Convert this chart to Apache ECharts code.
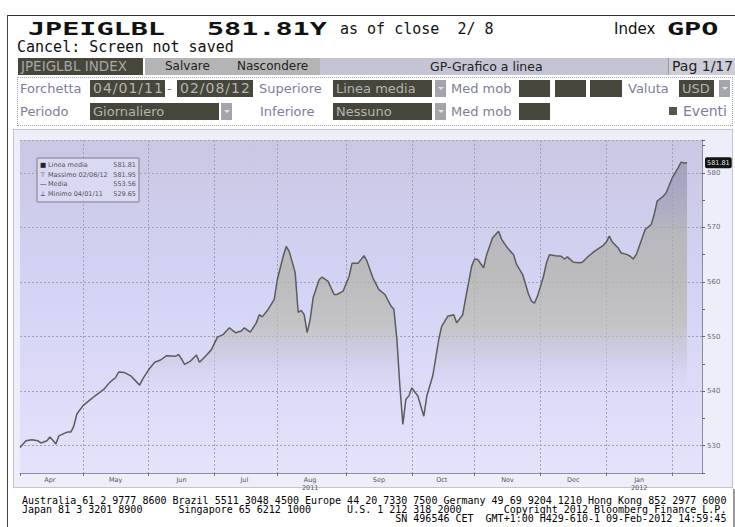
<!DOCTYPE html>
<html>
<head>
<meta charset="utf-8">
<script src="https://cdn.jsdelivr.net/npm/echarts@6/dist/echarts.min.js"></script>
<style>
body{margin:0;width:735px;height:527px;background:#fff;overflow:hidden;position:relative;font-family:'DejaVu Sans',sans-serif}
#main{position:absolute;left:0;top:0;width:735px;height:527px;z-index:1}
.a{position:absolute;white-space:pre;line-height:1}
.mono{font-family:'DejaVu Sans Mono',monospace}
.wide{font-family:'DejaVu Sans Mono',monospace;font-weight:bold;font-size:18px;transform:scaleX(1.58);transform-origin:0 0;color:#111}
.box{position:absolute;background:#46463a;color:#b4b4b4;font-size:13px;line-height:17px;height:17px;padding-left:3px;box-sizing:border-box;overflow:hidden;white-space:pre}
.lbl{position:absolute;color:#7d7d9b;font-size:13px;line-height:17px;white-space:pre}
.dd{position:absolute;background:#a4a4ac;width:11px;height:17px}
.dd:after{content:'';position:absolute;left:3px;top:7px;border-left:3px solid transparent;border-right:3px solid transparent;border-top:3px solid #e4e4e4}
.hb{position:absolute;font-size:12px;line-height:17px;color:#222;white-space:pre}
</style>
</head>
<body>
<!-- chart panel (behind the chart) -->
<div style="position:absolute;left:13px;top:129px;width:720px;height:359px;border:1px solid #c4c4d0;box-sizing:border-box;background:#eeeefb;z-index:0"></div>

<div id="main"></div>

<!-- screen frame -->
<div style="position:absolute;left:8px;top:15px;width:727px;height:1px;background:#333"></div>
<div style="position:absolute;left:7px;top:15px;width:1px;height:512px;background:#444"></div>
<div style="position:absolute;left:733px;top:489px;width:2px;height:38px;background:#999"></div>

<!-- title lines -->
<div class="a wide" style="left:28px;top:20px">JPEIGLBL</div>
<div class="a wide" style="left:207px;top:20px">581.81Y</div>
<div class="a mono" style="left:340px;top:22px;font-size:15px;color:#111">as of close  2/ 8</div>
<div class="a" style="left:614px;top:22px;font-size:15px;color:#111">Index</div>
<div class="a wide" style="left:667px;top:20px">GPO</div>
<div class="a mono" style="left:17px;top:40px;font-size:15px;color:#111">Cancel: Screen not saved</div>

<!-- menu bar -->
<div class="box" style="left:18px;top:58px;width:125px;font-size:13.5px;color:#a8a8a8">JPEIGLBL INDEX</div>
<div style="position:absolute;left:145px;top:58px;width:175px;height:17px;background:#b4b4b4"></div>
<div style="position:absolute;left:320px;top:58px;width:348px;height:17px;background:#c4c4d2"></div>
<div class="hb" style="left:165px;top:58px">Salvare</div>
<div class="hb" style="left:237px;top:58px">Nascondere</div>
<div class="hb" style="left:430px;top:58px;font-size:12.5px">GP-Grafico a linea</div>
<div style="position:absolute;left:668px;top:58px;width:67px;height:17px;background:#cdcdd8;border-left:1px solid #999;box-sizing:border-box"></div>
<div class="hb" style="left:672px;top:58px;font-size:14px">Pag 1/17</div>

<!-- settings rows -->
<div style="position:absolute;left:17px;top:77px;width:716px;height:49px;border:1px dotted #a4a4bc;box-sizing:border-box"></div>
<div class="lbl" style="left:20px;top:80px">Forchetta</div>
<div class="box" style="left:90px;top:80px;width:75px;font-size:14px;letter-spacing:1px">04/01/11</div>
<div class="lbl" style="left:167px;top:80px">-</div>
<div class="box" style="left:177px;top:80px;width:76px;font-size:14px;letter-spacing:1px">02/08/12</div>
<div class="lbl" style="left:259px;top:80px">Superiore</div>
<div class="box" style="left:333px;top:80px;width:99px">Linea media</div>
<div class="dd" style="left:435px;top:80px"></div>
<div class="lbl" style="left:451px;top:80px">Med mob</div>
<div class="box" style="left:519px;top:80px;width:31px"></div>
<div class="box" style="left:555px;top:80px;width:31px"></div>
<div class="box" style="left:590px;top:80px;width:32px"></div>
<div class="lbl" style="left:628px;top:80px">Valuta</div>
<div class="box" style="left:679px;top:80px;width:35px">USD</div>
<div class="dd" style="left:719px;top:80px"></div>

<div class="lbl" style="left:20px;top:103px">Periodo</div>
<div class="box" style="left:90px;top:103px;width:129px">Giornaliero</div>
<div class="dd" style="left:221px;top:103px"></div>
<div class="lbl" style="left:260px;top:103px">Inferiore</div>
<div class="box" style="left:333px;top:103px;width:99px">Nessuno</div>
<div class="dd" style="left:435px;top:103px"></div>
<div class="lbl" style="left:451px;top:103px">Med mob</div>
<div class="box" style="left:519px;top:103px;width:31px"></div>
<div style="position:absolute;left:669px;top:107px;width:8px;height:8px;background:#55554a"></div>
<div class="lbl" style="left:683px;top:103px;font-size:14px">Eventi</div>

<!-- footer -->
<pre class="mono" style="position:absolute;left:22px;top:496px;margin:0;font-size:10px;line-height:9px;color:#000">Australia 61 2 9777 8600 Brazil 5511 3048 4500 Europe 44 20 7330 7500 Germany 49 69 9204 1210 Hong Kong 852 2977 6000
Japan 81 3 3201 8900      Singapore 65 6212 1000      U.S. 1 212 318 2000       Copyright 2012 Bloomberg Finance L.P.
                                                              SN 496546 CET  GMT+1:00 H429-610-1 09-Feb-2012 14:59:45</pre>

<script>
// Data (business days, Apr 2011 - Feb 2012)
var sampleDates = [
  '2011-04-01','2011-04-05','2011-04-07','2011-04-11','2011-04-12','2011-04-14','2011-04-15','2011-04-18',
  '2011-04-19','2011-04-20','2011-04-22','2011-04-25','2011-04-26','2011-04-27','2011-04-28',
  '2011-05-02','2011-05-04','2011-05-06','2011-05-11','2011-05-13','2011-05-17','2011-05-18','2011-05-20',
  '2011-05-24','2011-05-27','2011-05-30',
  '2011-06-01','2011-06-03','2011-06-07','2011-06-09','2011-06-14','2011-06-15','2011-06-16','2011-06-17',
  '2011-06-21','2011-06-23','2011-06-24','2011-06-28','2011-06-30',
  '2011-07-04','2011-07-06','2011-07-08','2011-07-12','2011-07-14','2011-07-15','2011-07-19','2011-07-21',
  '2011-07-22','2011-07-25','2011-07-27','2011-07-29',
  '2011-08-01','2011-08-03','2011-08-04','2011-08-05','2011-08-09','2011-08-10','2011-08-11','2011-08-12',
  '2011-08-15','2011-08-16','2011-08-17','2011-08-19','2011-08-22','2011-08-24','2011-08-26','2011-08-29',
  '2011-08-31',
  '2011-09-02','2011-09-05','2011-09-07','2011-09-09','2011-09-12','2011-09-14','2011-09-16','2011-09-20',
  '2011-09-22','2011-09-23','2011-09-26','2011-09-27','2011-09-28','2011-09-29','2011-09-30',
  '2011-10-03','2011-10-05','2011-10-07','2011-10-10','2011-10-12','2011-10-14','2011-10-17','2011-10-19',
  '2011-10-21','2011-10-24','2011-10-26','2011-10-27','2011-10-31',
  '2011-11-01','2011-11-02','2011-11-04','2011-11-07','2011-11-09','2011-11-10','2011-11-11','2011-11-14',
  '2011-11-16','2011-11-18','2011-11-21','2011-11-23','2011-11-25','2011-11-28','2011-11-29','2011-11-30',
  '2011-12-02','2011-12-05','2011-12-06','2011-12-08','2011-12-12','2011-12-13','2011-12-14','2011-12-16',
  '2011-12-20','2011-12-21','2011-12-23','2011-12-27','2011-12-30',
  '2012-01-02','2012-01-03','2012-01-04','2012-01-06','2012-01-09','2012-01-11','2012-01-12','2012-01-13',
  '2012-01-16','2012-01-17','2012-01-19','2012-01-23','2012-01-24','2012-01-25','2012-01-27','2012-01-30',
  '2012-02-01','2012-02-03','2012-02-06','2012-02-07','2012-02-08'
];
var sampleValues = [
  529.65,530.9,531.1,530.9,530.5,530.9,531.6,531.0,
  530.3,531.8,532.3,532.5,532.5,533.6,535.8,
  537.3,538.2,539.1,540.3,541.6,542.5,543.5,543.4,
  542.8,541.1,542.2,
  543.9,545.3,545.7,546.5,546.4,546.7,545.9,544.9,
  545.5,546.6,545.3,546.4,547.6,
  549.9,550.4,551.6,550.7,551.0,551.6,550.8,552.5,
  554.0,553.6,555.0,556.8,
  560.4,564.7,566.5,565.6,561.7,554.4,554.8,554.0,
  550.7,553.1,557.1,560.4,560.9,560.1,557.7,557.7,
  558.3,
  561.0,563.4,563.4,564.8,563.8,560.7,558.6,557.7,
  555.6,555.0,549.5,540.9,533.9,538.5,539.1,
  540.6,539.1,535.4,539.1,542.8,549.5,551.9,553.7,
  554.0,552.5,554.0,557.1,562.9,
  564.2,564.1,562.6,565.0,568.1,568.7,569.3,567.8,
  566.2,565.0,563.2,561.4,557.8,556.5,556.1,557.4,
  561.0,563.5,565.0,564.8,564.7,564.2,564.6,563.6,
  563.5,563.6,564.7,565.6,566.7,
  567.3,568.4,567.3,566.2,565.3,565.0,564.7,564.2,
  565.0,566.5,569.6,570.5,572.3,574.8,575.7,576.3,
  579.0,580.9,581.95,581.8,581.81
];
var lastValue = 581.81;
var monthNames = ['Jan','Feb','Mar','Apr','May','Jun','Jul','Aug','Sep','Oct','Nov','Dec'];
var yearLabels = { '2011-08': '2011', '2012-01': '2012' };
var statNames = ['Linea media', 'Massimo 02/06/12', 'Media', 'Minimo 04/01/11'];
var statValues = ['581.81', '581.95', '553.56', '529.65'];
var statMarks = ['\u25A0', '\u22A4', '\u2014', '\u22A5'];

// x axis categories: every business day from the start to a few days past the last close
var days = [];
for (var t = Date.UTC(2011, 3, 1); t <= Date.UTC(2012, 1, 15); t += 864e5) {
  var wd = new Date(t).getUTCDay();
  if (wd === 0 || wd === 6) continue;
  days.push(new Date(t).toISOString().slice(0, 10));
}
var monthStart = {}, monthMid = {}, groups = {};
days.forEach(function (s, i) {
  var k = s.slice(0, 7);
  (groups[k] = groups[k] || []).push(i);
});
Object.keys(groups).forEach(function (k) {
  var g = groups[k];
  monthStart[g[0]] = true;
  if (k !== '2012-02') monthMid[g[Math.floor(g.length / 2)]] = true;
});

var seriesData = sampleDates.map(function (d, i) { return [d, sampleValues[i]]; });

var statGraphics = [{
  type: 'rect', shape: { x: 37, y: 158, width: 102, height: 44 },
  style: { fill: 'rgba(222,222,246,0.75)', stroke: '#7c7c8c', lineWidth: 1 }, z: 10
}];
statNames.forEach(function (n, i) {
  var yy = 165 + i * 9.5;
  statGraphics.push({ type: 'text', x: 40, y: yy, z: 11,
    style: { text: statMarks[i], fontSize: 6.5, fill: '#222', verticalAlign: 'middle', fontFamily: 'DejaVu Sans' } });
  statGraphics.push({ type: 'text', x: 48, y: yy, z: 11,
    style: { text: n, fontSize: 6.5, fill: '#555', verticalAlign: 'middle', fontFamily: 'DejaVu Sans' } });
  statGraphics.push({ type: 'text', x: 136, y: yy, z: 11,
    style: { text: statValues[i], fontSize: 6.5, fill: '#555', align: 'right', verticalAlign: 'middle', fontFamily: 'DejaVu Sans' } });
});

var chart = echarts.init(document.getElementById('main'), null, { renderer: 'svg' });
chart.setOption({
  animation: false,
  backgroundColor: 'transparent',
  textStyle: { fontFamily: 'DejaVu Sans' },
  grid: {
    left: 20, right: 33, top: 140, bottom: 54, show: true, borderWidth: 0,
    backgroundColor: {
      type: 'linear', x: 0, y: 0, x2: 0, y2: 1,
      colorStops: [
        { offset: 0, color: '#c8c8e4' },
        { offset: 0.45, color: '#d3d3f4' },
        { offset: 1, color: '#e3e3fc' }
      ]
    }
  },
  xAxis: {
    type: 'category', data: days, boundaryGap: false,
    axisLine: { lineStyle: { color: '#8c8cac' } },
    axisTick: { interval: function (i) { return !!monthStart[i]; }, length: 3, lineStyle: { color: '#777' } },
    axisLabel: {
      interval: function (i) { return !!monthMid[i]; },
      fontSize: 6.5, color: '#555', margin: 3, lineHeight: 8,
      formatter: function (v) {
        var lab = monthNames[+v.slice(5, 7) - 1];
        if (yearLabels[v.slice(0, 7)]) lab += '\n' + yearLabels[v.slice(0, 7)];
        return lab;
      }
    },
    splitLine: {
      show: true, interval: function (i) { return !!monthStart[i] && i > 0; },
      lineStyle: { color: '#a0a0b6', type: [2, 2] }
    }
  },
  yAxis: {
    type: 'value', position: 'right', min: 525, max: 586, interval: 5,
    axisLine: { show: true, lineStyle: { color: '#8a8aa2' } },
    axisTick: { show: true, length: 3, lineStyle: { color: '#666' } },
    axisLabel: {
      fontSize: 7, color: '#6a6a7a', margin: 5,
      formatter: function (v) { return v % 10 === 0 ? String(v) : ''; }
    },
    splitLine: { show: true, lineStyle: { color: ['rgba(0,0,0,0)', '#a0a0b6'], type: [2, 2] } }
  },
  series: [{
    type: 'line', data: seriesData, symbol: 'none', smooth: false,
    lineStyle: { color: '#5c5c5c', width: 1.5 },
    areaStyle: {
      origin: 'start',
      color: {
        type: 'linear', x: 0, y: 140, x2: 0, y2: 473, global: true,
        colorStops: [
          { offset: 0, color: '#8e8ea8' },
          { offset: 0.18, color: '#9c9cb2' },
          { offset: 0.28, color: '#adadaa' },
          { offset: 0.43, color: '#b3b3a7' },
          { offset: 0.56, color: '#bcbcb4' },
          { offset: 0.66, color: 'rgba(200,200,222,0.8)' },
          { offset: 0.76, color: 'rgba(210,210,240,0)' },
          { offset: 1, color: 'rgba(210,210,240,0)' }
        ]
      }
    },
    markLine: {
      silent: true, symbol: 'none', animation: false,
      lineStyle: { width: 0, color: 'rgba(0,0,0,0)', type: 'solid' },
      data: [{ yAxis: lastValue }],
      label: {
        show: true, position: 'end', formatter: lastValue.toFixed(2), distance: 3,
        backgroundColor: '#141414', color: '#e2e2e2', fontSize: 6.5, padding: [2, 2], borderRadius: 2
      }
    }
  }],
  graphic: statGraphics
});
</script>
</body>
</html>
